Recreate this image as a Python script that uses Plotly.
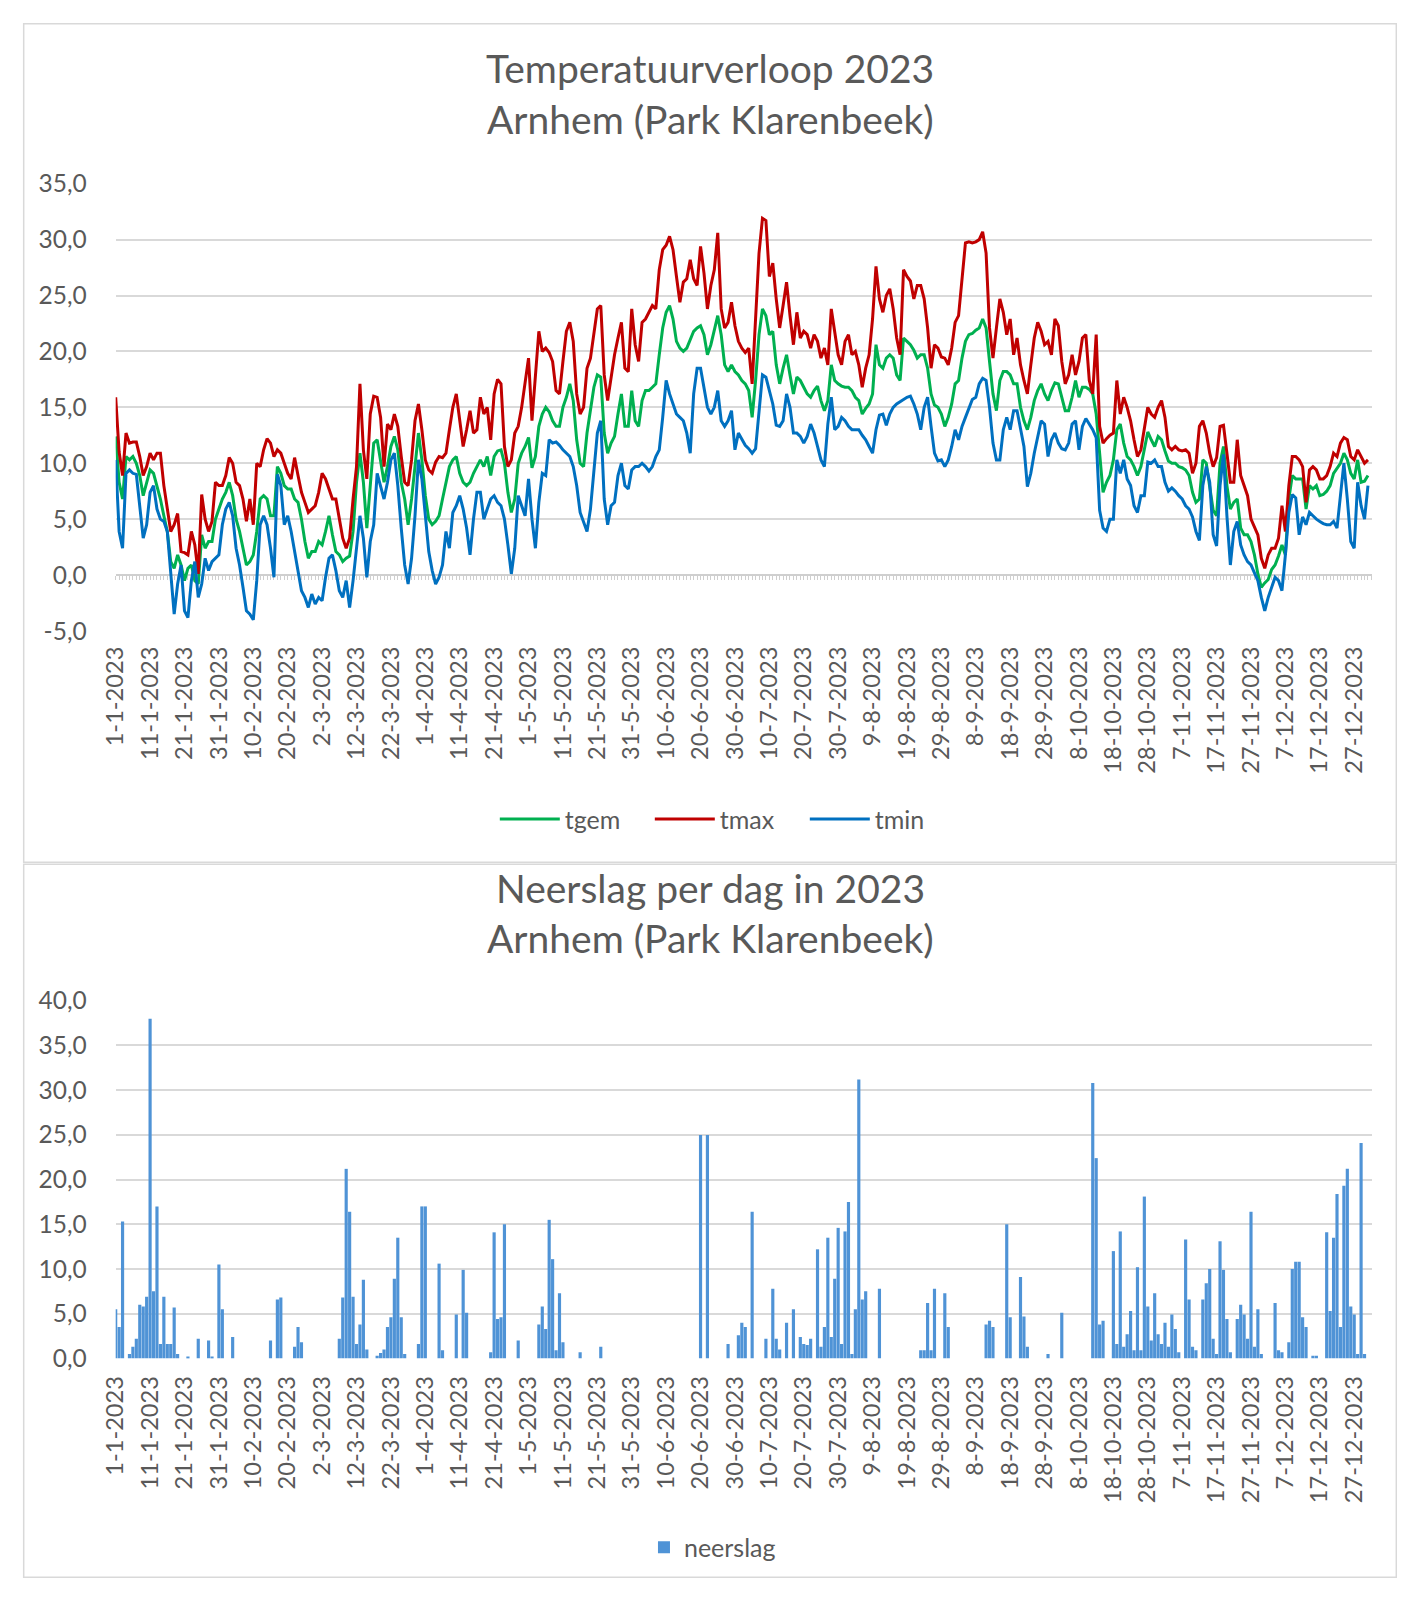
import datetime as dt
import plotly.graph_objects as go

# ---------------- data ----------------
start = dt.date(2023, 1, 1)
dates = [start + dt.timedelta(days=i) for i in range(365)]
date_labels = [f"{d.day}-{d.month}-{d.year}" for d in dates]
day_index = list(range(365))
tick_days = day_index[::10]
tick_labels = date_labels[::10]

temp_ticks = [-5, 0, 5, 10, 15, 20, 25, 30, 35]
temp_tick_labels = ["-5,0", "0,0", "5,0", "10,0", "15,0", "20,0", "25,0", "30,0", "35,0"]
rain_ticks = [0, 5, 10, 15, 20, 25, 30, 35, 40]
rain_tick_labels = ["0,0", "5,0", "10,0", "15,0", "20,0", "25,0", "30,0", "35,0", "40,0"]

tmax = [
    15.9, 11.0, 8.9, 12.7, 11.8, 11.9, 11.9, 10.6, 8.9, 9.7,
    10.9, 10.3, 10.9, 10.9, 8.0, 5.9, 3.9, 4.5, 5.5, 2.1,
    2.0, 1.8, 3.9, 2.7, 0.1, 7.2, 5.0, 3.9, 4.8, 8.3,
    8.0, 8.0, 8.9, 10.5, 10.0, 8.3, 8.0, 6.8, 4.8, 6.8,
    4.5, 10.0, 9.7, 11.2, 12.2, 11.8, 10.6, 11.2, 10.9, 10.0,
    9.1, 8.6, 10.5, 8.9, 7.4, 6.5, 5.6, 5.9, 6.2, 7.4,
    9.1, 8.6, 7.7, 6.8, 6.8, 5.0, 3.3, 2.4, 3.3, 6.8,
    9.7, 17.1, 11.2, 8.6, 14.4, 16.0, 15.9, 14.1, 9.7, 13.5,
    13.0, 14.4, 13.3, 10.6, 8.3, 8.0, 10.3, 13.8, 15.3, 13.0,
    10.3, 9.4, 9.1, 10.1, 10.6, 10.5, 10.9, 13.0, 15.0, 16.2,
    13.8, 11.5, 13.0, 14.7, 12.7, 13.0, 15.9, 14.4, 15.0, 12.1,
    16.2, 17.5, 17.1, 11.5, 9.7, 10.3, 12.7, 13.3, 15.0, 17.4,
    19.4, 13.8, 17.9, 21.8, 20.0, 20.3, 19.9, 19.1, 16.5, 16.2,
    19.1, 21.8, 22.6, 20.9, 16.2, 14.4, 15.0, 18.5, 19.4, 21.5,
    23.8, 24.1, 17.9, 15.6, 17.7, 19.7, 21.2, 22.6, 18.5, 18.2,
    23.8, 20.6, 19.1, 22.6, 22.9, 23.5, 24.1, 23.8, 27.3, 29.1,
    29.5, 30.3, 29.1, 26.7, 24.4, 26.2, 26.5, 28.2, 26.5, 25.9,
    29.4, 27.0, 23.8, 25.9, 27.3, 30.6, 23.8, 22.1, 22.6, 24.4,
    22.3, 20.9, 20.3, 19.9, 20.3, 17.1, 22.9, 28.8, 31.9, 31.7,
    26.7, 27.9, 24.7, 22.1, 24.1, 26.2, 23.2, 20.6, 23.5, 21.2,
    21.8, 21.5, 20.3, 21.5, 20.9, 19.4, 20.3, 18.8, 23.8, 21.8,
    19.7, 18.8, 20.9, 21.5, 19.7, 20.0, 18.8, 16.8, 18.5, 19.7,
    22.9, 27.6, 24.7, 23.5, 25.0, 25.6, 23.8, 21.2, 19.7, 27.3,
    26.7, 26.3, 24.7, 25.9, 25.9, 24.7, 22.1, 18.5, 20.6, 20.3,
    19.5, 19.4, 18.8, 20.3, 22.6, 23.2, 26.5, 29.7, 29.8, 29.7,
    29.8, 30.0, 30.7, 28.8, 22.1, 19.4, 22.1, 24.7, 23.5, 21.5,
    22.9, 19.7, 21.2, 18.8, 17.4, 16.2, 18.8, 21.2, 22.6, 21.8,
    20.6, 20.9, 19.7, 22.9, 22.3, 19.1, 17.1, 17.9, 19.7, 17.9,
    19.1, 21.2, 21.5, 17.4, 16.2, 21.5, 13.3, 11.8, 12.2, 12.5,
    12.7, 17.4, 14.4, 15.9, 15.0, 13.8, 12.1, 10.6, 11.2, 13.0,
    15.0, 14.4, 14.1, 15.0, 15.6, 14.1, 11.5, 11.2, 11.5, 11.2,
    11.1, 11.2, 10.9, 9.1, 10.0, 13.3, 13.8, 12.7, 10.9, 9.7,
    10.5, 13.3, 13.4, 10.9, 8.3, 8.3, 12.1, 8.9, 8.0, 7.1,
    5.0, 4.3, 3.6, 1.5, 0.6, 1.8, 2.4, 2.4, 3.3, 6.2,
    3.9, 8.0, 10.6, 10.6, 10.3, 9.7, 6.5, 9.4, 9.7, 9.4,
    8.6, 8.6, 8.9, 9.7, 10.9, 10.6, 11.8, 12.3, 12.1, 10.6,
    10.3, 11.2, 10.6, 10.0, 10.3,
]

tgem = [
    12.4, 8.3, 6.8, 10.6, 10.3, 10.6, 10.0, 8.9, 7.1, 8.3,
    9.4, 9.1, 8.0, 6.8, 5.3, 3.9, 1.2, 0.6, 1.8, 0.9,
    -0.5, 0.6, 0.9, -0.5, -0.8, 3.6, 2.4, 3.0, 3.0, 5.0,
    5.9, 6.8, 7.4, 8.3, 7.1, 5.0, 3.9, 2.4, 0.9, 1.2,
    1.8, 3.9, 6.8, 7.1, 6.8, 5.3, 5.3, 9.7, 9.1, 8.0,
    7.7, 7.7, 6.8, 6.5, 5.0, 3.0, 1.5, 2.1, 2.1, 3.0,
    2.7, 3.9, 5.3, 3.6, 2.1, 1.8, 1.2, 1.5, 1.7, 3.9,
    8.3, 10.9, 8.3, 4.2, 8.3, 11.8, 12.1, 10.3, 8.3, 9.7,
    11.5, 12.4, 11.2, 8.3, 6.8, 4.5, 6.8, 9.7, 12.7, 10.3,
    7.1, 5.0, 4.5, 4.8, 5.3, 6.8, 8.3, 9.7, 10.3, 10.6,
    9.1, 8.3, 8.0, 8.3, 9.1, 9.7, 10.3, 9.7, 10.6, 8.9,
    10.6, 11.1, 11.2, 10.0, 7.4, 5.6, 6.8, 10.0, 10.9, 11.5,
    12.3, 9.6, 10.6, 13.3, 14.4, 15.0, 14.6, 13.8, 13.3, 13.3,
    15.0, 15.9, 17.1, 15.6, 12.1, 10.0, 9.7, 12.7, 15.0, 16.8,
    17.9, 17.7, 12.7, 10.9, 11.8, 12.4, 14.4, 16.2, 13.3, 13.3,
    16.5, 13.8, 13.3, 15.6, 16.5, 16.5, 16.8, 17.1, 19.7, 22.1,
    23.5, 24.1, 22.9, 20.9, 20.3, 20.0, 20.3, 21.0, 21.8, 22.1,
    22.3, 21.5, 19.7, 20.6, 21.8, 23.2, 21.5, 18.8, 18.2, 18.8,
    18.2, 17.9, 17.4, 17.1, 16.5, 14.1, 17.4, 21.5, 23.8, 23.2,
    21.5, 21.8, 18.8, 17.1, 18.5, 19.7, 17.9, 16.2, 17.7, 17.4,
    16.8, 16.2, 15.9, 16.5, 16.9, 15.6, 14.7, 15.6, 18.8, 17.4,
    17.1, 16.9, 16.8, 16.8, 16.5, 15.9, 15.6, 14.4, 14.9, 15.3,
    16.2, 20.6, 18.8, 18.5, 19.4, 19.7, 19.4, 17.9, 17.4, 21.2,
    20.9, 20.6, 20.1, 19.4, 19.7, 19.7, 18.5, 16.2, 15.2, 15.0,
    14.4, 13.3, 14.1, 15.3, 17.1, 17.4, 19.4, 20.9, 21.5, 21.6,
    21.9, 22.1, 22.9, 22.1, 19.1, 16.2, 14.7, 17.4, 18.2, 18.2,
    17.9, 17.1, 17.1, 15.0, 13.8, 13.0, 14.1, 15.6, 16.5, 17.1,
    16.2, 15.6, 16.5, 17.2, 17.1, 15.9, 14.7, 14.7, 15.9, 17.4,
    15.9, 16.8, 16.8, 16.6, 16.2, 14.4, 10.6, 7.4, 8.3, 8.9,
    10.3, 13.0, 13.5, 11.8, 10.6, 10.3, 9.7, 8.9, 9.7, 11.2,
    12.8, 12.1, 11.5, 12.4, 12.1, 11.1, 10.2, 10.0, 10.0, 9.7,
    9.6, 9.4, 8.9, 7.4, 6.5, 6.8, 10.3, 10.0, 7.7, 5.8,
    5.3, 10.0, 11.5, 8.0, 5.9, 6.5, 6.8, 4.2, 3.6, 3.6,
    3.0, 1.8, 0.1, -1.1, -0.7, -0.4, 0.5, 0.9, 1.7, 2.7,
    1.8, 6.8, 8.9, 8.6, 8.6, 8.6, 5.9, 8.0, 7.7, 8.0,
    7.1, 7.2, 7.5, 8.0, 9.1, 9.6, 10.0, 10.9, 10.3, 9.1,
    8.6, 10.3, 8.3, 8.4, 8.9,
]

tmin = [
    10.3, 3.9, 2.4, 9.1, 9.4, 9.1, 9.0, 6.2, 3.3, 4.5,
    7.4, 8.0, 5.9, 5.0, 4.8, 3.9, -0.2, -3.5, -0.8, 0.9,
    -3.2, -3.8, -0.5, 1.2, -2.0, -0.8, 1.5, 0.4, 1.2, 1.5,
    1.8, 4.5, 5.9, 6.5, 5.3, 2.4, 0.9, -1.1, -3.2, -3.5,
    -4.0, -0.5, 4.5, 5.3, 4.5, 2.4, -0.2, 9.0, 8.0, 4.5,
    5.3, 3.9, 2.1, 0.4, -1.4, -2.0, -2.9, -1.7, -2.6, -2.0,
    -2.3, -0.2, 1.5, 1.8, 0.4, -1.4, -2.0, -0.5, -2.9, -0.5,
    2.4, 5.3, 3.3, -0.2, 3.0, 4.5, 9.1, 8.0, 6.8, 8.3,
    10.3, 10.9, 8.0, 4.2, 0.9, -0.8, 1.5, 5.3, 10.3, 8.6,
    5.0, 2.1, 0.4, -0.8, -0.2, 0.9, 3.9, 2.4, 5.6, 6.2,
    7.1, 5.9, 4.2, 1.8, 5.0, 7.4, 7.4, 5.0, 5.9, 6.8,
    7.1, 6.5, 6.2, 5.0, 2.7, 0.1, 2.4, 7.1, 6.2, 5.3,
    8.6, 5.0, 2.4, 6.5, 9.1, 8.9, 12.1, 11.8, 11.9, 11.6,
    11.2, 10.9, 10.6, 9.7, 8.0, 5.6, 4.8, 3.9, 5.9, 9.7,
    12.7, 13.8, 6.8, 4.5, 6.2, 6.5, 8.9, 10.0, 8.0, 7.7,
    9.4, 9.7, 9.7, 10.0, 9.7, 9.3, 9.7, 10.6, 11.2, 14.1,
    17.4, 16.2, 15.3, 14.4, 14.1, 13.8, 12.7, 10.9, 16.2, 18.5,
    18.5, 16.8, 15.0, 14.4, 15.0, 16.5, 13.8, 13.3, 13.8, 14.7,
    11.2, 12.7, 12.1, 11.6, 11.3, 10.9, 11.3, 14.4, 17.9, 17.7,
    16.5, 15.3, 13.4, 13.3, 13.8, 16.2, 15.0, 12.7, 12.7, 12.4,
    11.8, 12.4, 13.5, 12.7, 11.5, 10.3, 9.7, 13.5, 15.9, 13.0,
    13.3, 14.1, 13.8, 13.3, 13.0, 13.0, 13.0, 12.5, 12.1, 11.5,
    10.9, 13.0, 14.3, 14.4, 13.4, 14.4, 15.0, 15.3, 15.5, 15.7,
    15.9, 16.0, 15.3, 14.4, 13.0, 15.0, 15.9, 13.3, 10.9, 10.2,
    10.3, 9.7, 10.3, 11.5, 13.0, 12.1, 13.3, 14.1, 15.0, 15.7,
    15.9, 17.1, 17.6, 17.4, 15.0, 11.8, 10.3, 10.3, 13.0, 14.1,
    13.0, 14.7, 14.7, 13.0, 11.5, 7.9, 9.1, 10.9, 12.3, 13.8,
    13.5, 10.6, 12.1, 12.7, 11.8, 11.3, 11.2, 11.8, 13.5, 13.8,
    11.2, 13.3, 14.0, 13.5, 13.0, 12.3, 5.8, 4.2, 3.9, 5.0,
    5.0, 10.3, 9.1, 10.3, 8.6, 8.0, 6.2, 5.6, 7.1, 7.1,
    10.1, 10.0, 10.3, 9.7, 9.7, 8.3, 7.5, 7.8, 7.5, 7.1,
    6.8, 6.2, 5.9, 5.2, 3.9, 3.1, 8.0, 9.7, 8.3, 3.6,
    2.6, 8.0, 10.8, 5.3, 0.9, 3.9, 4.8, 2.7, 1.8, 1.2,
    0.9, 0.2, -0.5, -2.0, -3.2, -2.0, -1.0, -0.2, -0.5, -1.4,
    1.8, 5.6, 7.2, 6.9, 3.6, 5.2, 4.5, 5.6, 5.3, 5.0,
    4.8, 4.6, 4.5, 4.5, 4.8, 4.2, 7.1, 10.0, 6.8, 3.0,
    2.4, 8.3, 6.2, 5.0, 8.0,
]

neerslag = [
    5.5, 3.5, 15.3, 0, 0.5, 1.3, 2.2, 6.0, 5.8, 6.9,
    38.0, 7.5, 17.0, 1.6, 6.9, 1.6, 1.6, 5.7, 0.5, 0,
    0, 0.2, 0, 0, 2.2, 0, 0, 2.0, 0.2, 0,
    10.5, 5.5, 0, 0, 2.4, 0, 0, 0, 0, 0,
    0, 0, 0, 0, 0, 2.0, 0, 6.6, 6.8, 0,
    0, 0, 1.3, 3.5, 1.8, 0, 0, 0, 0, 0,
    0, 0, 0, 0, 0, 2.2, 6.8, 21.2, 16.4, 6.9,
    1.6, 3.8, 8.8, 1.0, 0, 0, 0.3, 0.6, 1.0, 3.5,
    4.6, 8.9, 13.5, 4.6, 0.5, 0, 0, 0, 1.6, 17.0,
    17.0, 0, 0, 0, 10.6, 0.9, 0, 0, 0, 4.9,
    0, 9.9, 5.1, 0, 0, 0, 0, 0, 0, 0.7,
    14.1, 4.4, 4.6, 15.0, 0, 0, 0, 2.0, 0, 0,
    0, 0, 0, 3.8, 5.8, 3.3, 15.5, 11.1, 0.9, 7.3,
    1.8, 0, 0, 0, 0, 0.7, 0, 0, 0, 0,
    0, 1.3, 0, 0, 0, 0, 0, 0, 0, 0,
    0, 0, 0, 0, 0, 0, 0, 0, 0, 0,
    0, 0, 0, 0, 0, 0, 0, 0, 0, 0,
    25.0, 0, 25.0, 0, 0, 0, 0, 0, 1.6, 0,
    0, 2.6, 4.0, 3.5, 0, 16.4, 0, 0, 0, 2.2,
    0, 7.8, 2.2, 1.0, 0, 4.0, 0, 5.5, 0, 2.4,
    1.6, 1.5, 2.2, 0, 12.2, 1.3, 3.5, 13.5, 2.4, 8.9,
    14.6, 1.6, 14.2, 17.5, 0.5, 5.5, 31.2, 6.6, 7.5, 0,
    0, 0, 7.8, 0, 0, 0, 0, 0, 0, 0,
    0, 0, 0, 0, 0.9, 0.9, 6.2, 0.9, 7.8, 0,
    0, 7.3, 3.5, 0, 0, 0, 0, 0, 0, 0,
    0, 0, 0, 3.8, 4.2, 3.5, 0, 0, 0, 15.0,
    4.6, 0, 0, 9.1, 4.7, 1.3, 0, 0, 0, 0,
    0, 0.5, 0, 0, 0, 5.1, 0, 0, 0, 0,
    0, 0, 0, 0, 30.8, 22.4, 3.8, 4.2, 0, 0,
    12.0, 1.6, 14.2, 1.3, 2.7, 5.3, 0.9, 10.2, 0.9, 18.1,
    5.8, 2.0, 7.3, 2.7, 1.6, 4.0, 1.3, 4.9, 3.3, 0.7,
    0, 13.3, 6.6, 1.3, 0.9, 0, 6.6, 8.4, 10.0, 2.2,
    0.5, 13.1, 9.9, 4.4, 0.7, 0, 4.4, 6.0, 4.9, 2.2,
    16.4, 1.3, 5.5, 0.5, 0, 0, 0, 6.2, 0.9, 0.7,
    0, 1.8, 10.0, 10.8, 10.8, 4.6, 3.5, 0, 0.3, 0.3,
    0, 0, 14.1, 5.3, 13.5, 18.4, 3.5, 19.3, 21.2, 5.8,
    4.9, 0.5, 24.1, 0.5, 0,
]

for name, arr in [("tmax", tmax), ("tgem", tgem), ("tmin", tmin), ("neerslag", neerslag)]:
    assert len(arr) == 365, (name, len(arr))

# ---------------- layout constants ----------------
# The page body has an 8px margin; size the figure so the page fits the window.
OFF = 8
W, H = 1405 - 2 * OFF, 1600 - 2 * OFF
FONT = "Lato, 'Open Sans', sans-serif"
GREY = "#595959"


def fx(px):
    return min(max((px - OFF) / W, 0.0), 1.0)


def fy(py):
    return min(max(1 - (py - OFF) / H, 0.0), 1.0)


X_DOM = [fx(101.7), fx(1372)]
X_RANGE = [0, 365.25]
TOP_Y = [fy(627.3), fy(171.7)]
ZERO_POS = fy(570.7)

fig = go.Figure()
fig.add_trace(go.Scatter(x=day_index, y=tgem, name="tgem", mode="lines",
                         line=dict(color="#00B050", width=3), legend="legend"))
fig.add_trace(go.Scatter(x=day_index, y=tmax, name="tmax", mode="lines",
                         line=dict(color="#C00000", width=3), legend="legend"))
fig.add_trace(go.Scatter(x=day_index, y=tmin, name="tmin", mode="lines",
                         line=dict(color="#0070C0", width=3), legend="legend"))
fig.add_trace(go.Bar(x=day_index, y=neerslag, name="neerslag", xaxis="x2", yaxis="y2",
                     marker=dict(color="#4F93D6", line=dict(width=0)),
                     legend="legend2", showlegend=True))
# empty helper trace so the category-axis at y = 0 (with its per-day tick marks) is drawn
fig.add_trace(go.Scatter(x=[], y=[], xaxis="x3", yaxis="y", showlegend=False,
                         hoverinfo="skip"))

axis_font = dict(family=FONT, size=24, color=GREY)

fig.update_layout(
    width=W, height=H, autosize=False,
    margin=dict(l=0, r=0, t=0, b=0),
    paper_bgcolor="white", plot_bgcolor="white",
    font=dict(family=FONT, color=GREY),
    bargap=0.08,
    hovermode=False,
    xaxis=dict(domain=X_DOM, range=X_RANGE, anchor="y", tickmode="array",
               tickvals=tick_days, ticktext=tick_labels, tickangle=-90,
               showgrid=False, zeroline=False, showline=False, ticks="",
               tickfont=dict(family=FONT, size=23.6, color=GREY), ticklabelstandoff=10),
    xaxis3=dict(overlaying="x", anchor="free", position=ZERO_POS, range=X_RANGE,
                tickmode="linear", tick0=0, dtick=1, ticks="outside", ticklen=4,
                tickwidth=1, tickcolor="#CFCFCF", showticklabels=False,
                showgrid=False, zeroline=False, showline=True,
                linecolor="#CFCFCF", linewidth=2, layer="below traces"),
    yaxis=dict(domain=TOP_Y, range=[-5, 35], anchor="x",
               tickmode="array", tickvals=temp_ticks, ticktext=temp_tick_labels,
               showgrid=True, gridcolor="#D9D9D9", gridwidth=1.5,
               zeroline=True, zerolinecolor="#CFCFCF", zerolinewidth=2,
               showline=False, ticks="", tickfont=dict(family=FONT, size=24.5, color=GREY),
               ticklabelstandoff=28),
    xaxis2=dict(domain=X_DOM, range=X_RANGE, anchor="y2", tickmode="array",
                tickvals=tick_days, ticktext=tick_labels, tickangle=-90,
                showgrid=False, zeroline=False, showline=False, ticks="",
                tickfont=dict(family=FONT, size=23.6, color=GREY), ticklabelstandoff=12),
    yaxis2=dict(domain=[fy(1368.3), fy(1004)], range=[0, 40], anchor="x2",
                tickmode="array", tickvals=rain_ticks, ticktext=rain_tick_labels,
                showgrid=True, gridcolor="#D9D9D9", gridwidth=1.5,
                zeroline=False, showline=False, ticks="",
                tickfont=dict(family=FONT, size=24.5, color=GREY),
                ticklabelstandoff=28),
    legend=dict(orientation="h", x=fx(720), xanchor="center", y=fy(819), yanchor="middle",
                itemwidth=60, entrywidth=80,
                font=dict(family=FONT, size=25, color=GREY), bgcolor="rgba(0,0,0,0)"),
    legend2=dict(orientation="h", x=fx(705), xanchor="center", y=fy(1561), yanchor="middle",
                 font=dict(family=FONT, size=25, color=GREY), bgcolor="rgba(0,0,0,0)"),
    shapes=[
        dict(type="rect", xref="paper", yref="paper", x0=0.0005, x1=0.9995,
             y0=fy(863), y1=0.9995, line=dict(color="#D9D9D9", width=1.5)),
        dict(type="rect", xref="paper", yref="paper", x0=0.0005, x1=0.9995,
             y0=0.0005, y1=fy(865), line=dict(color="#D9D9D9", width=1.5)),
    ],
    annotations=[
        dict(text="Temperatuurverloop 2023", x=fx(703), y=fy(54), xref="paper", yref="paper",
             showarrow=False, xanchor="center", yanchor="middle",
             font=dict(family=FONT, size=39, color=GREY)),
        dict(text="Arnhem (Park Klarenbeek)", x=fx(703), y=fy(106), xref="paper", yref="paper",
             showarrow=False, xanchor="center", yanchor="middle",
             font=dict(family=FONT, size=39, color=GREY)),
        dict(text="Neerslag per dag in 2023", x=fx(703), y=fy(889), xref="paper", yref="paper",
             showarrow=False, xanchor="center", yanchor="middle",
             font=dict(family=FONT, size=39, color=GREY)),
        dict(text="Arnhem (Park Klarenbeek)", x=fx(703), y=fy(940), xref="paper", yref="paper",
             showarrow=False, xanchor="center", yanchor="middle",
             font=dict(family=FONT, size=39, color=GREY)),
    ],
)

fig.write_html("out.html")
